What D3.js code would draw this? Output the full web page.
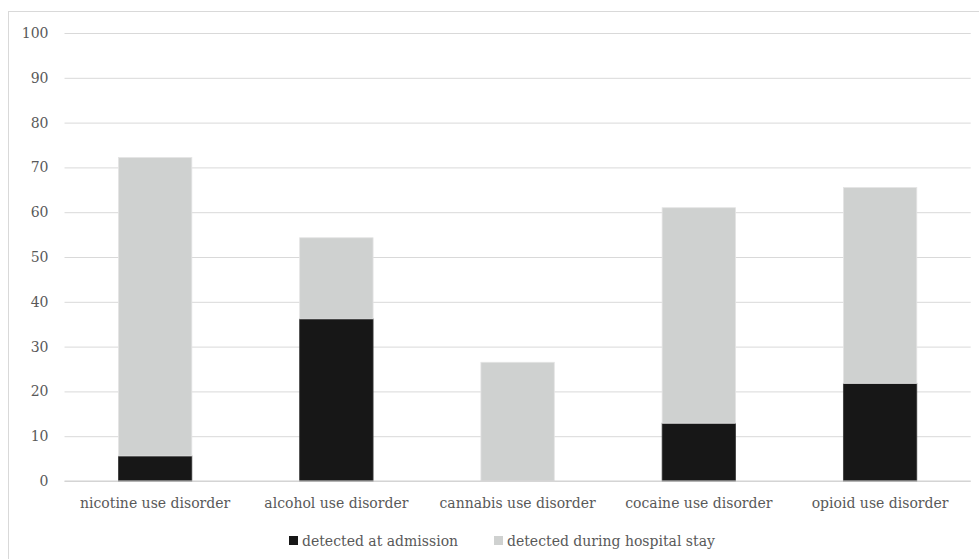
<!DOCTYPE html>
<html>
<head>
<meta charset="utf-8">
<script src="https://cdn.jsdelivr.net/npm/d3@7"></script>
<style>
  html, body { margin: 0; padding: 0; background: #fff; }
  svg { display: block; }
  text { font-family: "DejaVu Serif", serif; fill: #595959; }
</style>
</head>
<body>
<svg id="chart" width="979" height="559"></svg>
<script>
// Share of patients (%) per disorder, split by when the disorder was detected
const categories = ["nicotine use disorder", "alcohol use disorder", "cannabis use disorder", "cocaine use disorder", "opioid use disorder"];
const atAdmission = [5.6, 36.2, 0, 12.9, 21.8];
const duringStay = [66.6, 18.1, 26.5, 48.1, 43.7];
const seriesNames = ["detected at admission", "detected during hospital stay"];
const yTicks = [0, 10, 20, 30, 40, 50, 60, 70, 80, 90, 100];

const colors = { admission: "#171717", stay: "#cfd1d0" };
const fontSize = 14;

const svg = d3.select("#chart");

// outer chart frame
svg.append("rect")
  .attr("x", 8.5).attr("y", 11.5)
  .attr("width", 1000).attr("height", 600)
  .attr("fill", "none").attr("stroke", "#d9d9d9").attr("stroke-width", 1);

const margin = { left: 64.5, right: 970.7, top: 33, bottom: 481 };

const x = d3.scaleBand()
  .domain(categories)
  .range([margin.left, margin.right])
  .paddingInner(0.595)
  .paddingOuter(0.2975);

const y = d3.scaleLinear().domain([0, 100]).range([margin.bottom, margin.top]);

// gridlines and y labels
const yAxis = d3.axisLeft(y).tickValues(yTicks).tickSize(-(margin.right - margin.left)).tickPadding(16);
const gy = svg.append("g").attr("transform", `translate(${margin.left},0)`).call(yAxis);
gy.select(".domain").remove();
gy.selectAll(".tick line").attr("stroke", "#d9d9d9").attr("stroke-width", 1);
gy.selectAll(".tick text").attr("font-size", fontSize).attr("fill", "#595959")
  .style("font-family", "DejaVu Serif, serif");

// stacked data
const rows = categories.map((c, i) => ({ cat: c, admission: atAdmission[i], stay: duringStay[i] }));
const stack = d3.stack().keys(["admission", "stay"]);
const layers = stack(rows);

svg.append("g").selectAll("g")
  .data(layers)
  .join("g")
  .attr("fill", d => colors[d.key])
  .attr("stroke", d => d.key === "admission" ? "#3a3a3a" : "#e4e4e4")
  .attr("stroke-width", 0.8)
  .selectAll("rect")
  .data(d => d.filter(s => s[1] - s[0] > 0))
  .join("rect")
  .attr("x", d => x(d.data.cat))
  .attr("width", x.bandwidth())
  .attr("y", d => y(d[1]))
  .attr("height", d => y(d[0]) - y(d[1]));

// baseline
svg.append("line")
  .attr("x1", margin.left).attr("x2", margin.right)
  .attr("y1", y(0)).attr("y2", y(0))
  .attr("stroke", "#d0d0d0").attr("stroke-width", 1);

// category labels
const xAxis = d3.axisBottom(x).tickSize(0).tickPadding(17);
const gx = svg.append("g").attr("transform", `translate(0,${margin.bottom})`).call(xAxis);
gx.select(".domain").remove();
gx.selectAll(".tick text").attr("font-size", fontSize).attr("fill", "#595959")
  .style("font-family", "DejaVu Serif, serif");

// legend
const legend = svg.append("g").attr("transform", "translate(289,541)");
const legendItems = [
  { name: seriesNames[0], color: colors.admission, x: 0 },
  { name: seriesNames[1], color: colors.stay, x: 205 }
];
const li = legend.selectAll("g").data(legendItems).join("g")
  .attr("transform", d => `translate(${d.x},0)`);
li.append("rect").attr("x", 0).attr("y", -5).attr("width", 9).attr("height", 9).attr("fill", d => d.color);
li.append("text").attr("x", 13).attr("y", 0).attr("dy", "0.35em")
  .attr("font-size", fontSize).text(d => d.name);
</script>
</body>
</html>
